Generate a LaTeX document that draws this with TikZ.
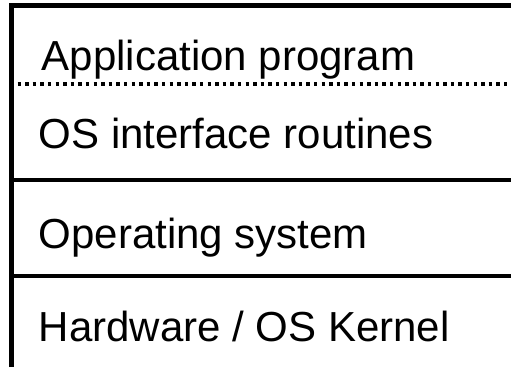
\documentclass[tikz,border=0pt]{standalone}
\usepackage{fontspec}
\setmainfont{Liberation Sans}
\begin{document}
\begin{tikzpicture}[x=1pt,y=-1pt,
  layertext/.style={anchor=base west,inner sep=0pt,font=\fontsize{42}{50}\selectfont},
  solidrule/.style={line width=4.5pt},
  dotrule/.style={line width=3.7pt,dash pattern=on 3.4pt off 4.2pt}]
\useasboundingbox (0,0) rectangle (511,367);
% frame: left edge and top edge
\draw[solidrule,line join=miter] (11.5,367) -- (11.5,5.5) -- (511,5.5);
% layer separators
\draw[dotrule] (17.5,84) -- (511,84);
\draw[solidrule] (11.5,180) -- (511,180);
\draw[solidrule] (11.5,275.8) -- (511,275.8);
% layer labels
\node[layertext] (app) at (41.5,70) {Application program};
\node[layertext] (osif) at (38.5,148.3) {OS interface routines};
\node[layertext] (os) at (38.5,248.3) {Operating system};
\node[layertext] (hw) at (38.5,341.5) {Hardware / OS Kernel};
\end{tikzpicture}
\end{document}
